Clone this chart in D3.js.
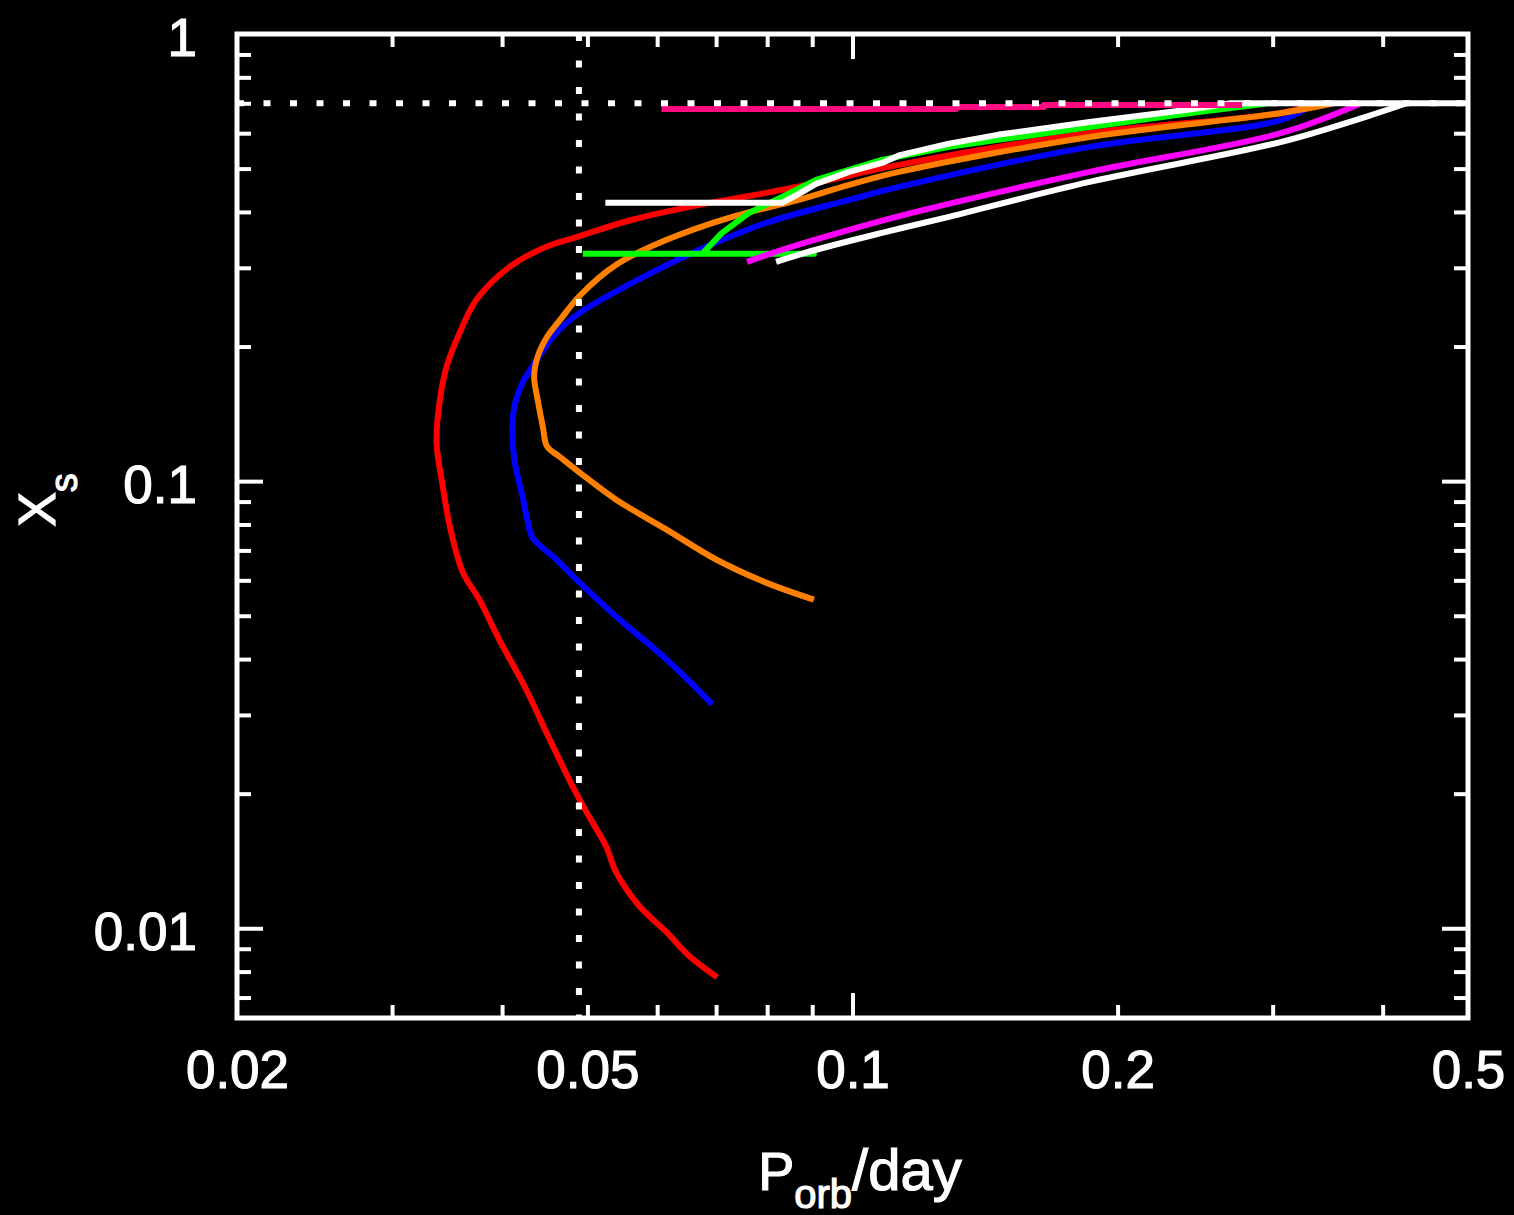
<html>
<head>
<meta charset="UTF-8">
<title>X_s vs P_orb</title>
<script src="https://d3js.org/d3.v7.min.js"></script>
<style>
  body { margin: 0; background: #000; }
  svg { display: block; background: #000; }
  .curve { fill: none; stroke-width: 6px; stroke-linejoin: round; stroke-linecap: butt; }
  .tick line { stroke: #fff; stroke-width: 4px; }
  .lbl text { fill: #fff; stroke: #fff; stroke-width: 1.2px; font: 53px "Liberation Sans", Arial, sans-serif; }
  .title { fill: #fff; stroke: #fff; stroke-width: 1.2px; font-family: "Liberation Sans", Arial, sans-serif; }
</style>
</head>
<body>
<svg width="1514" height="1215"></svg>
<script>
// tick labels
var xLabelVals = [0.02, 0.05, 0.1, 0.2, 0.5],
    xLabels = ['0.02', '0.05', '0.1', '0.2', '0.5'],
    xMajor = [0.1],
    xMinor = [0.03, 0.04, 0.05, 0.06, 0.07, 0.08, 0.09, 0.2, 0.3, 0.4];
var yLabelVals = [0.01, 0.1, 1],
    yLabels = ['0.01', '0.1', '1'],
    yMajor = [0.01, 0.1],
    yMinor = [0.007, 0.008, 0.009, 0.02, 0.03, 0.04, 0.05, 0.06, 0.07, 0.08, 0.09,
              0.2, 0.3, 0.4, 0.5, 0.6, 0.7, 0.8, 0.9];

// reference lines
var pCut = 0.0489, xInit = 0.7;

// series: [P_orb (day), X_s]
var red = [[0.0702,0.00777],[0.0653,0.00866],[0.0615,0.0098],[0.0573,0.0112],[0.0539,0.01334],
  [0.0525,0.01525],[0.0499,0.01816],[0.0481,0.02077],[0.0453,0.02644],[0.0426,0.0342],
  [0.0397,0.0442],[0.0377,0.0543],[0.0361,0.0625],[0.0349,0.0791],[0.0342,0.0992],
  [0.0337,0.1219],[0.0340,0.1521],[0.0346,0.1803],[0.0358,0.2147],[0.0374,0.2544],
  [0.0408,0.3015],[0.0449,0.3342],[0.0487,0.3518],[0.0562,0.3842],[0.0670,0.4149],
  [0.0798,0.4413],[0.0909,0.4645],[0.1129,0.5097],[0.1859,0.6008],[0.307,0.666],[0.338,0.70]];
var blue = [[0.0693,0.0317],[0.0615,0.0399],[0.0539,0.0498],[0.0486,0.0602],[0.0461,0.0668],
  [0.0433,0.0748],[0.0428,0.0808],[0.0422,0.0923],[0.0413,0.1117],[0.0411,0.1284],
  [0.0413,0.1467],[0.0422,0.166],[0.0438,0.1869],[0.0461,0.2147],[0.0490,0.2379],
  [0.0562,0.2777],[0.0670,0.3292],[0.0798,0.3782],[0.0991,0.4256],[0.1129,0.455],
  [0.1859,0.5592],[0.307,0.6425],[0.335,0.70]];
var orange = [[0.0904,0.0543],[0.0798,0.0593],[0.0700,0.0668],[0.0615,0.0779],[0.0539,0.0909],
  [0.0490,0.1045],[0.0465,0.1134],[0.0450,0.1195],[0.0445,0.1323],[0.0439,0.1521],
  [0.0435,0.1712],[0.0439,0.1898],[0.0450,0.2103],[0.0466,0.2300],[0.0490,0.2598],
  [0.0539,0.3048],[0.0615,0.3465],[0.0730,0.3901],[0.0869,0.4256],[0.0991,0.4597],
  [0.1129,0.4916],[0.1859,0.5886],[0.307,0.666],[0.352,0.70]];
var green = [[0.0494,0.3224],[0.0904,0.3224],[0.0675,0.3224],[0.0711,0.3591],[0.0763,0.398],
  [0.0832,0.4322],[0.0909,0.4719],[0.1080,0.5231],[0.1287,0.5592],[0.1859,0.6197],
  [0.247,0.669],[0.297,0.70]];
var magenta = [[0.0759,0.3094],[0.0832,0.3292],[0.0991,0.3648],[0.1180,0.4002],[0.1859,0.4916],
  [0.307,0.6008],[0.378,0.70]];
var white2 = [[0.0819,0.3094],[0.0909,0.3292],[0.1080,0.3591],[0.1287,0.3901],[0.1859,0.4669],
  [0.307,0.5737],[0.382,0.652],[0.426,0.70]];
var white1 = [[0.0524,0.4192],[0.0832,0.4192],[0.0869,0.4389],[0.0909,0.4622],[0.0991,0.4916],
  [0.1080,0.5149],[0.1129,0.5352],[0.1287,0.5687],[0.1466,0.5957],[0.1859,0.6357],
  [0.239,0.676],[0.269,0.70],[0.5,0.70]];
var pink = [[0.0607,0.680],[0.131,0.680],[0.131,0.687],[0.165,0.687],[0.165,0.694],[0.277,0.694]];

var series = [
  { data: red, color: '#ff0000', smooth: true },
  { data: blue, color: '#0000ff', smooth: true },
  { data: orange, color: '#ff8000', smooth: true },
  { data: green, color: '#00ff00', smooth: false },
  { data: magenta, color: '#ff00ff', smooth: true },
  { data: white2, color: '#ffffff', smooth: true },
  { data: white1, color: '#ffffff', smooth: false },
  { data: pink, color: '#ff0a80', smooth: false }
];

var svg = d3.select('svg'),
    pl = 237, pr = 1468, pt = 34, pb = 1018;

var x = d3.scaleLog().domain([0.02, 0.5]).range([pl, pr]);
var y = d3.scaleLog().domain([0.0063, 1]).range([pb, pt]);

var line = d3.line().x(d => x(d[0])).y(d => y(d[1]));
var smoothLine = d3.line().x(d => x(d[0])).y(d => y(d[1])).curve(d3.curveCatmullRom.alpha(0.5));

svg.selectAll('path.curve')
  .data(series)
  .enter().append('path')
    .attr('class', 'curve')
    .attr('stroke', d => d.color)
    .attr('d', d => (d.smooth ? smoothLine : line)(d.data));

// dotted reference lines
svg.append('line')
  .attr('x1', x(pCut)).attr('x2', x(pCut))
  .attr('y1', pt).attr('y2', pb)
  .attr('stroke', '#fff').attr('stroke-width', 6)
  .attr('stroke-dasharray', '7,19.5');
svg.append('line')
  .attr('x1', pl).attr('x2', pr)
  .attr('y1', y(xInit)).attr('y2', y(xInit))
  .attr('stroke', '#fff').attr('stroke-width', 6)
  .attr('stroke-dasharray', '7,19.5');

// ticks on all four sides, pointing inward
function ticks(axis, vals, len, tr) {
  var g = svg.append('g').attr('transform', tr)
    .call(axis.tickValues(vals).tickSize(-len).tickFormat(''));
  g.select('.domain').remove();
}
ticks(d3.axisBottom(x), xMinor, 13, 'translate(0,' + pb + ')');
ticks(d3.axisBottom(x), xMajor, 25, 'translate(0,' + pb + ')');
ticks(d3.axisTop(x), xMinor, 13, 'translate(0,' + pt + ')');
ticks(d3.axisTop(x), xMajor, 25, 'translate(0,' + pt + ')');
ticks(d3.axisLeft(y), yMinor, 14, 'translate(' + pl + ',0)');
ticks(d3.axisLeft(y), yMajor, 26, 'translate(' + pl + ',0)');
ticks(d3.axisRight(y), yMinor, 14, 'translate(' + pr + ',0)');
ticks(d3.axisRight(y), yMajor, 26, 'translate(' + pr + ',0)');

// frame
svg.append('rect')
  .attr('x', pl).attr('y', pt)
  .attr('width', pr - pl).attr('height', pb - pt)
  .attr('fill', 'none').attr('stroke', '#fff').attr('stroke-width', 5);

// tick labels
var gx = svg.append('g').attr('class', 'lbl')
  .attr('transform', 'translate(0,' + pb + ')')
  .call(d3.axisBottom(x).tickValues(xLabelVals).tickSize(0).tickPadding(32)
    .tickFormat((d, i) => xLabels[i]));
gx.select('.domain').remove();

var gy = svg.append('g').attr('class', 'lbl')
  .attr('transform', 'translate(' + pl + ',0)')
  .call(d3.axisLeft(y).tickValues(yLabelVals).tickSize(0).tickPadding(40)
    .tickFormat((d, i) => yLabels[i]));
gy.select('.domain').remove();
gy.selectAll('text').attr('dy', '0.4em');

// axis titles
var tx = svg.append('text').attr('class', 'title')
  .attr('x', 860).attr('y', 1190).attr('text-anchor', 'middle');
tx.append('tspan').attr('font-size', 54).text('P');
tx.append('tspan').attr('font-size', 40).attr('dy', 18).text('orb');
tx.append('tspan').attr('font-size', 58).attr('dy', -18).text('/day');

var ty = svg.append('text').attr('class', 'title')
  .attr('transform', 'translate(55,500) rotate(-90)')
  .attr('text-anchor', 'middle');
ty.append('tspan').attr('font-size', 52).text('X');
ty.append('tspan').attr('font-size', 38).attr('dy', 22).text('s');
</script>
</body>
</html>
